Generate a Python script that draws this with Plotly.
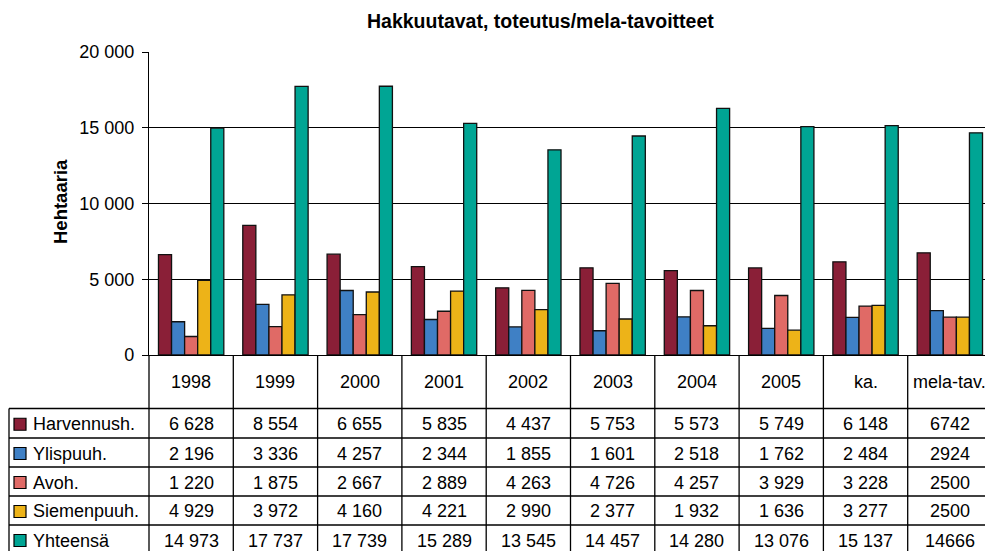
import plotly.graph_objects as go

# ---- data ----
categories = ["1998", "1999", "2000", "2001", "2002", "2003", "2004", "2005", "ka.", "mela-tav."]
series_names = ["Harvennush.", "Ylispuuh.", "Avoh.", "Siemenpuuh.", "Yhteensä"]
harvennush = [6628, 8554, 6655, 5835, 4437, 5753, 5573, 5749, 6148, 6742]
ylispuuh = [2196, 3336, 4257, 2344, 1855, 1601, 2518, 1762, 2484, 2924]
avoh = [1220, 1875, 2667, 2889, 4263, 4726, 4257, 3929, 3228, 2500]
siemenpuuh = [4929, 3972, 4160, 4221, 2990, 2377, 1932, 1636, 3277, 2500]
# bar heights as drawn in the picture
yhteensa = [14973, 17737, 17739, 15289, 13545, 14457, 16280, 15076, 15137, 14666]
# totals as printed in the data table
yhteensa_table = [14973, 17737, 17739, 15289, 13545, 14457, 14280, 13076, 15137, 14666]
y_tick_vals = [0, 5000, 10000, 15000, 20000]
y_tick_text = ["0", "5 000", "10 000", "15 000", "20 000"]

colors = ["#8A1F37", "#3F80C5", "#E06A66", "#EDB318", "#00A594"]
FONT = "Liberation Sans, Arial, sans-serif"

# ---- geometry (reference pixel coords; page body has an 8px margin) ----
OFF = 8
W, H = 993 - OFF, 551 - OFF
L, T, R = 149 - OFF, 52 - OFF, 1
PH = 303
B = H - T - PH
PW = W - L - R


def px(x):
    return (x - OFF - L) / PW


def py(y):
    return (T + PH - (y - OFF)) / PH


bar_series = [harvennush, ylispuuh, avoh, siemenpuuh, yhteensa]
table_series = [harvennush, ylispuuh, avoh, siemenpuuh, yhteensa_table]

fig = go.Figure()
for name, vals, col in zip(series_names, bar_series, colors):
    fig.add_trace(go.Bar(x=categories, y=vals, name=name,
                         marker=dict(color=col, line=dict(color="#111111", width=1.3))))

shapes = []
annotations = []

# table lines
row_edges = [408.5, 438, 467, 496, 525, 560]
for yy in row_edges[:-1]:
    shapes.append(dict(type="line", xref="paper", yref="paper",
                       x0=px(9), x1=1, y0=py(yy), y1=py(yy),
                       line=dict(color="black", width=1.3)))
for i in range(len(categories) + 1):
    xx = i / len(categories)
    shapes.append(dict(type="line", xref="paper", yref="paper",
                       x0=xx, x1=xx, y0=0, y1=py(560),
                       line=dict(color="black", width=1.3)))
shapes.append(dict(type="line", xref="paper", yref="paper",
                   x0=1, x1=1, y0=0, y1=1, line=dict(color="black", width=1.3)))
shapes.append(dict(type="line", xref="paper", yref="paper",
                   x0=px(9), x1=px(9), y0=py(408.5), y1=py(560),
                   line=dict(color="black", width=1.3)))

# category header row
for i, c in enumerate(categories):
    annotations.append(dict(xref="paper", yref="paper", x=(i + 0.5) / len(categories),
                            y=py(382), text=c, showarrow=False, xanchor="center",
                            yanchor="middle", font=dict(size=18, color="black", family=FONT)))

# data rows
for r, (name, vals, col) in enumerate(zip(series_names, table_series, colors)):
    yc = (row_edges[r] + row_edges[r + 1]) / 2 + 1
    if r == len(series_names) - 1:
        yc = 540.5
    shapes.append(dict(type="rect", xref="paper", yref="paper",
                       x0=px(14), x1=px(26), y0=py(yc - 6), y1=py(yc + 6),
                       fillcolor=col, line=dict(color="black", width=1.2)))
    annotations.append(dict(xref="paper", yref="paper", x=px(31), y=py(yc), text=name,
                            showarrow=False, xanchor="left", yanchor="middle",
                            font=dict(size=18, color="black", family=FONT)))
    for i, v in enumerate(vals):
        txt = f"{v:,}".replace(",", " ") if i < len(categories) - 1 else str(v)
        annotations.append(dict(xref="paper", yref="paper", x=(i + 0.5) / len(categories),
                                y=py(yc), text=txt, showarrow=False, xanchor="center",
                                yanchor="middle", font=dict(size=18, color="black", family=FONT)))

# title and y-axis title
annotations.append(dict(xref="paper", yref="paper", x=px(540), y=py(OFF),
                        text="<b>Hakkuutavat, toteutus/mela-tavoitteet</b>", showarrow=False,
                        xanchor="center", yanchor="top",
                        font=dict(size=19.5, color="black", family=FONT)))
annotations.append(dict(xref="paper", yref="paper", x=px(60), y=py(202),
                        text="<b>Hehtaaria</b>", textangle=-90, showarrow=False,
                        xanchor="center", yanchor="middle",
                        font=dict(size=18.5, color="black", family=FONT)))

fig.update_layout(
    width=W, height=H,
    margin=dict(l=L, r=R, t=T, b=B, pad=0),
    paper_bgcolor="white", plot_bgcolor="white",
    barmode="group", bargap=0.225, bargroupgap=0,
    showlegend=False,
    font=dict(family=FONT, size=18, color="black"),
    shapes=shapes, annotations=annotations,
)
fig.update_xaxes(showticklabels=False, ticks="", showgrid=False, showline=True,
                 linecolor="black", linewidth=1.3, range=[-0.5, 9.5])
fig.update_yaxes(range=[0, 20000], tickvals=y_tick_vals, ticktext=y_tick_text,
                 ticks="outside", ticklen=6, tickcolor="black", tickwidth=1.3,
                 showline=True, linecolor="black", linewidth=1.3,
                 showgrid=True, gridcolor="black", gridwidth=1.3, zeroline=False,
                 tickfont=dict(size=18, color="black", family=FONT),
                 ticklabelstandoff=4)

fig.write_html("out.html")
